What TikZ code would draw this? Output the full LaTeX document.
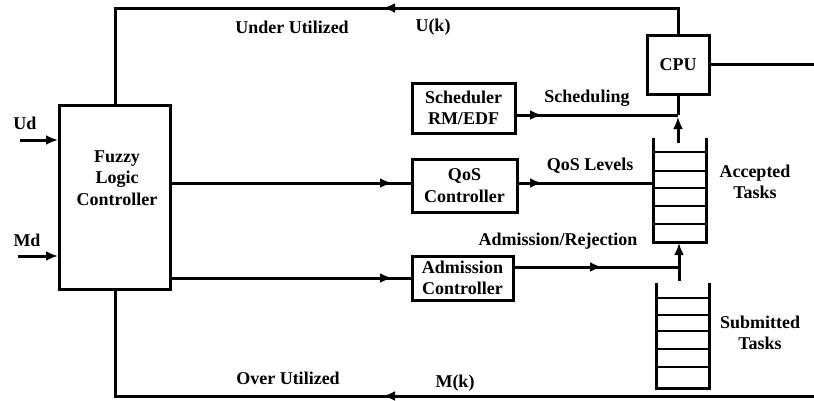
\documentclass[tikz,border=0pt]{standalone}
\usepackage{fontspec}
\setmainfont{Liberation Serif}
\usetikzlibrary{arrows.meta}
\tikzset{
  wire/.style={line width=3pt},
  rung/.style={line width=2.2pt},
  arr/.style={wire,-{Latex[length=12pt,width=10pt]}},
  txt/.style={font=\fontsize{18}{21.5}\selectfont\bfseries},
  blk/.style={draw,line width=3pt,inner sep=0pt,align=center,txt},
  lbl/.style={inner sep=0pt,align=center,txt},
}
\begin{document}
\begin{tikzpicture}[x=1pt,y=-1pt]
\useasboundingbox (0,0) rectangle (814,400);

% blocks
\node[blk,minimum width=111pt,minimum height=184pt] (flc) at (115,197) {};
\node[lbl] (flctext) at (117,178) {Fuzzy\\Logic\\Controller};
\node[blk,minimum width=103pt,minimum height=50pt] (sched) at (463.5,108) {Scheduler\\RM/EDF};
\node[blk,minimum width=105pt,minimum height=53pt] (qos) at (464.5,185.5) {QoS\\Controller};
\node[blk,minimum width=101pt,minimum height=44pt] (adm) at (462.5,278) {Admission\\Controller};
\node[blk,minimum width=62pt,minimum height=59pt] (cpu) at (678,64.5) {CPU};

% task queues
\draw[wire] (653,138) -- (653,242) -- (706,242) -- (706,138);
\foreach \y in {152,171,188,206,224} \draw[rung] (653,\y) -- (706,\y);
\draw[wire] (656,283) -- (656,388) -- (709,388) -- (709,283);
\foreach \y in {298,315,331,349,367} \draw[rung] (656,\y) -- (709,\y);

% junction and arrow points
\coordinate (udin) at (20,140);
\coordinate (mdin) at (18,256);
\coordinate (toparr) at (383,8);
\coordinate (botin) at (814,396);
\coordinate (botarr) at (383,396);
\coordinate (cpuout) at (814,64.5);
\coordinate (schedj) at (678,115);
\coordinate (schedarr) at (542,115);
\coordinate (accout) at (678,143);
\coordinate (accarr) at (678,117);
\coordinate (qosin) at (653,183);
\coordinate (qosarr) at (542,183);
\coordinate (flcqos) at (392,183);
\coordinate (flcadm) at (392,278);
\coordinate (admj) at (679,267);
\coordinate (admarr) at (602,267);
\coordinate (subout) at (679,281);
\coordinate (accin) at (679,243);

% inputs
\draw[arr] (udin) -- (flc.west |- udin);
\draw[arr] (mdin) -- (flc.west |- mdin);

% feedback loops (full wire, then the arrowhead part on top)
\draw[wire] (cpu.north) |- (toparr) -| (flc.north);
\draw[arr] (cpu.north) |- (toparr);
\draw[wire] (botin) -| (flc.south);
\draw[arr] (botin) -- (botarr);
\draw[wire] (cpu.east) -- (cpuout);

% controller outputs
\draw[wire] (flc.east |- flcqos) -- (qos.west |- flcqos);
\draw[arr] (flc.east |- flcqos) -- (flcqos);
\draw[wire] (flc.east |- flcadm) -- (adm.west |- flcadm);
\draw[arr] (flc.east |- flcadm) -- (flcadm);

% scheduler, QoS and admission paths
\draw[wire] (sched.east |- schedj) -- (schedj);
\draw[arr] (sched.east |- schedj) -- (schedarr);
\draw[wire] (cpu.south) -- (schedj);
\draw[arr] (accout) -- (accarr);
\draw[wire] (qos.east |- qosin) -- (qosin);
\draw[arr] (qos.east |- qosin) -- (qosarr);
\draw[wire] (adm.east |- admj) -- (admj);
\draw[arr] (adm.east |- admj) -- (admarr);
\draw[arr] (subout) -- (accin);

% labels
\node[lbl] (lunder) at (292,27) {Under Utilized};
\node[lbl] (luk) at (433,27) {U(k)};
\node[lbl] (lover) at (288,378) {Over Utilized};
\node[lbl] (lmk) at (455,383) {M(k)};
\node[lbl] (lud) at (25,123) {Ud};
\node[lbl] (lmd) at (27,240) {Md};
\node[lbl] (lsched) at (587,98) {Scheduling};
\node[lbl] (lqos) at (590,166) {QoS Levels};
\node[lbl] (ladm) at (558,241) {Admission/Rejection};
\node[lbl] (lacc) at (755,182) {Accepted\\Tasks};
\node[lbl] (lsub) at (760,333) {Submitted\\Tasks};
\end{tikzpicture}
\end{document}
